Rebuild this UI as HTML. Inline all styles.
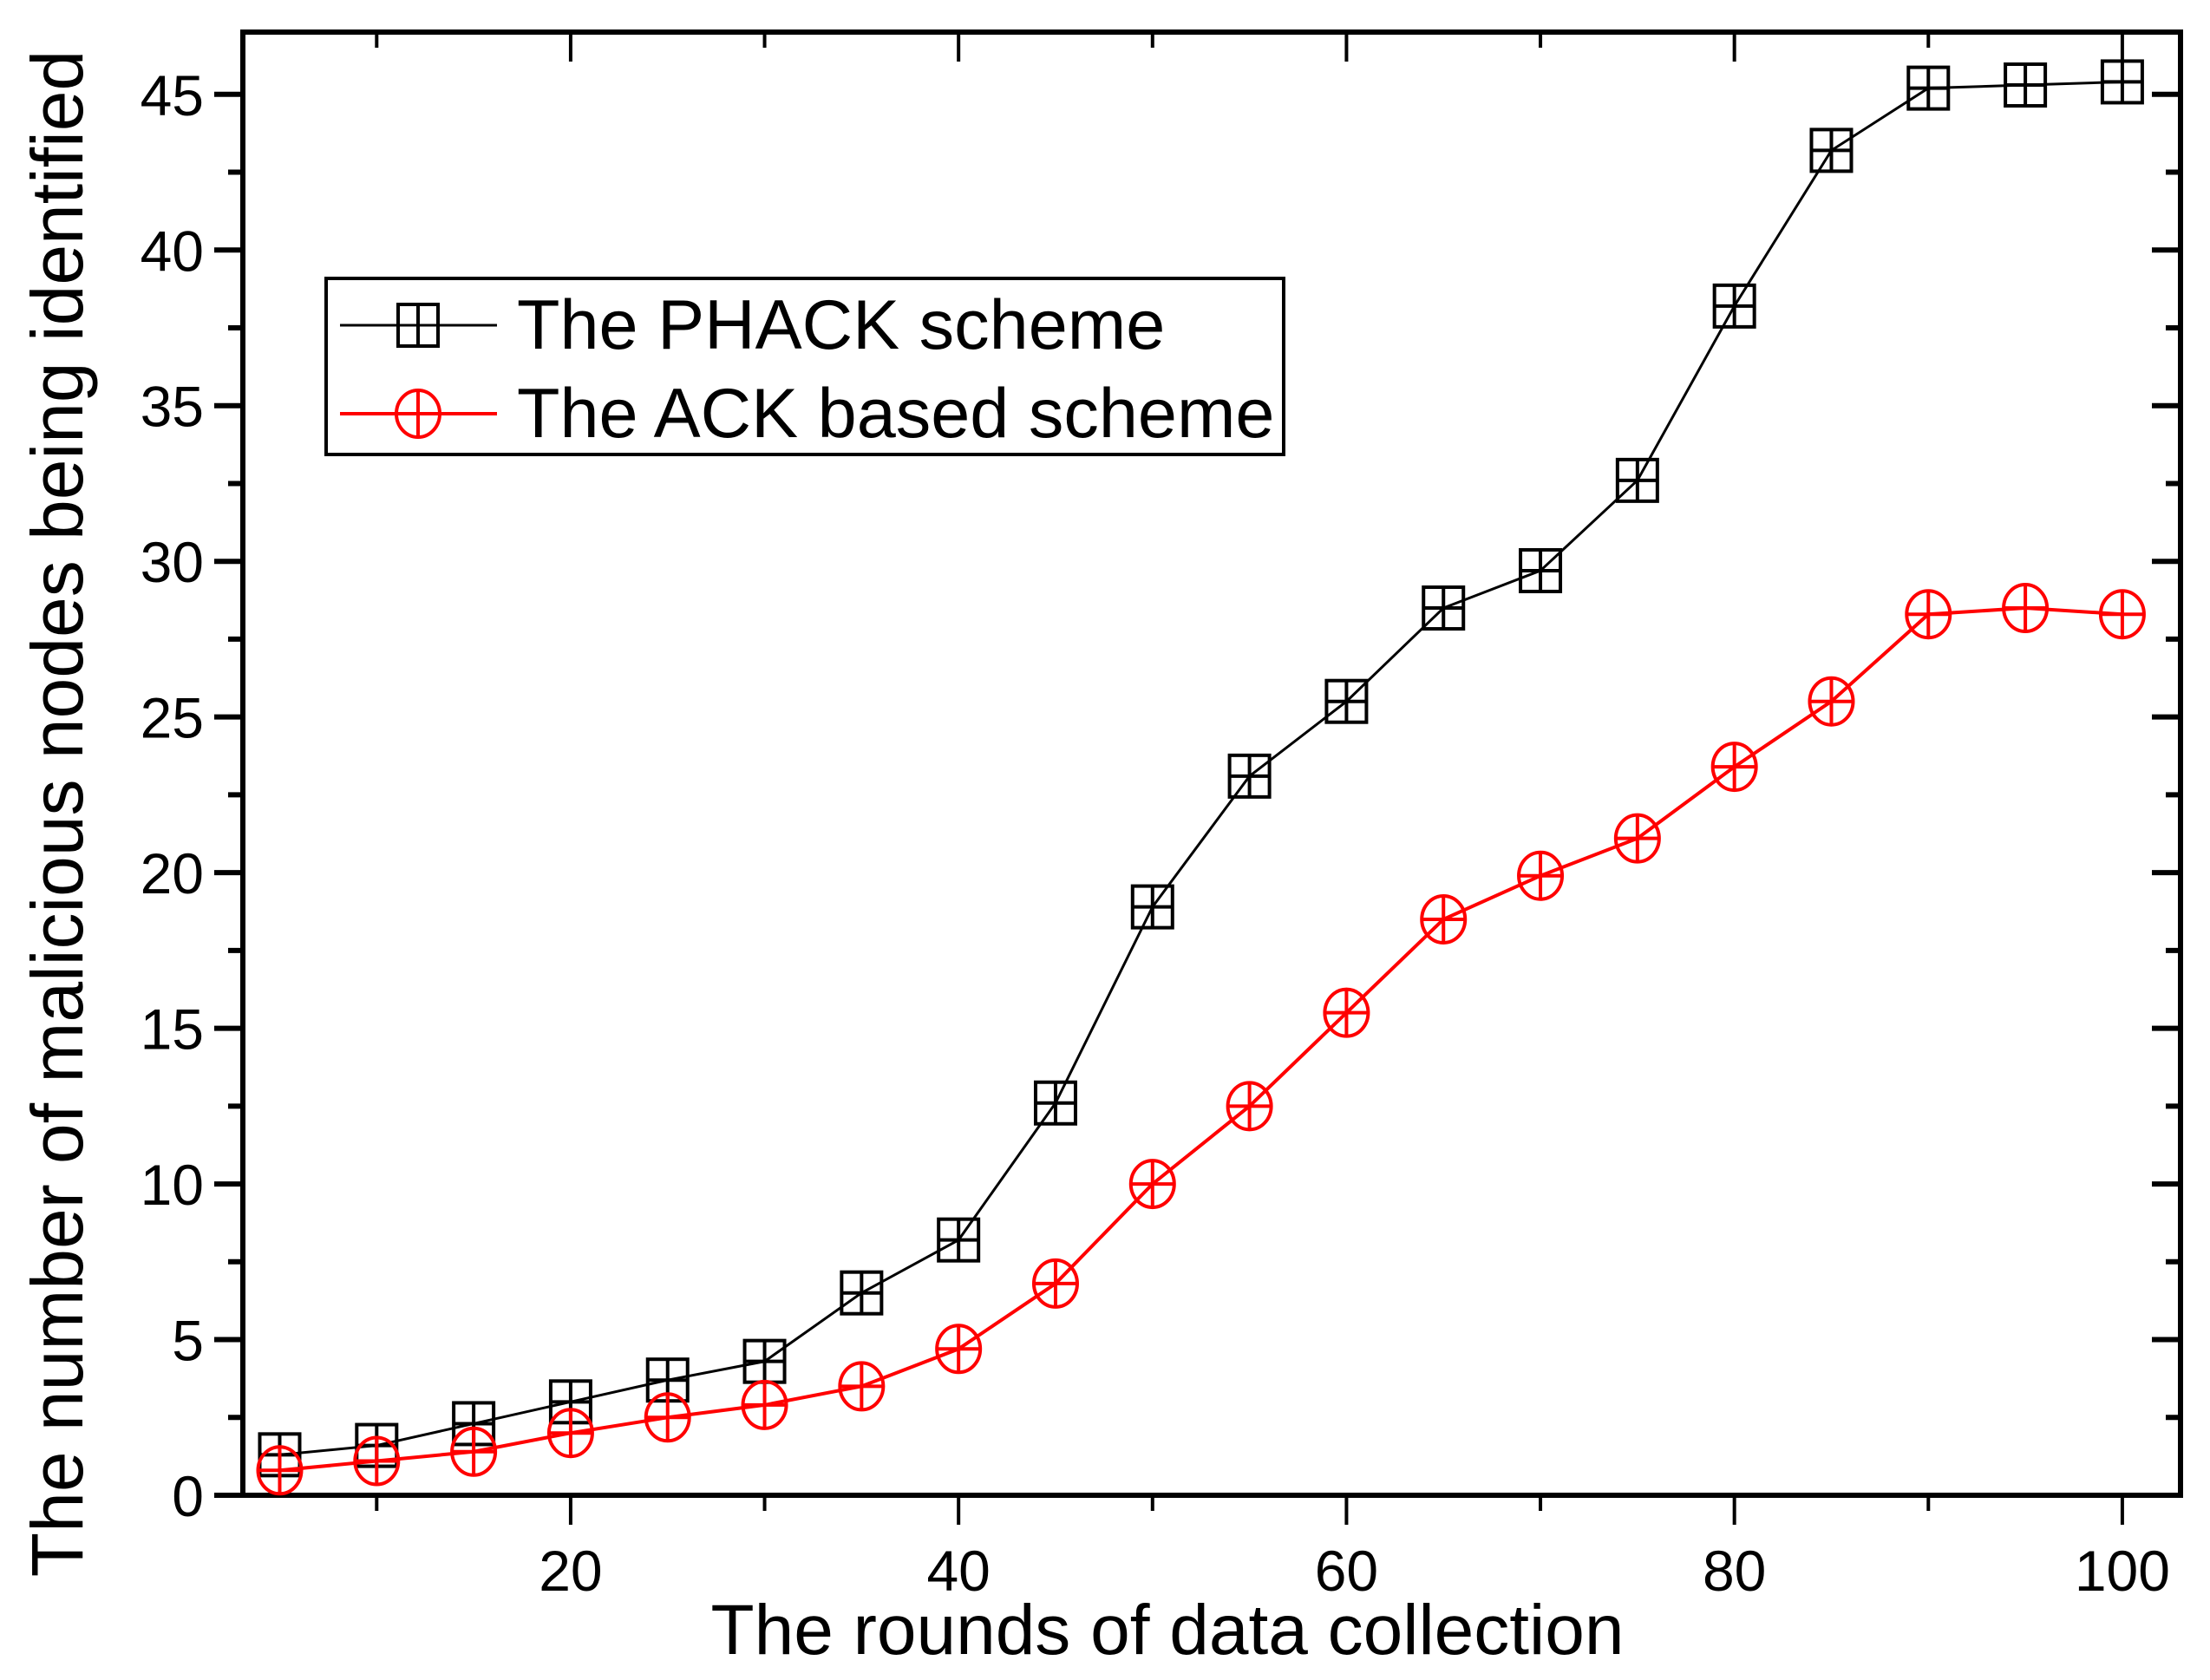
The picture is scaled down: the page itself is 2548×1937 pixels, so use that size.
<!DOCTYPE html>
<html><head><meta charset="utf-8"><style>
html,body{margin:0;padding:0;background:#fff;}
svg{display:block;font-family:"Liberation Sans",Arial,sans-serif;}
</style></head><body>
<svg id="chart" width="2548" height="1937" viewBox="0 0 2548 1937" xmlns="http://www.w3.org/2000/svg">
<rect width="2548" height="1937" fill="#fff"/>
<g id="axes"></g>
<g id="series"></g>
<text x="1346" y="1907" font-size="82" text-anchor="middle">The rounds of data collection</text>
<text transform="translate(95,938) rotate(-90)" font-size="84" text-anchor="middle">The number of malicious nodes being identified</text>
<g>
<rect x="376" y="321" width="1104" height="203" fill="#fff" stroke="#000" stroke-width="4"/>
<g>
<line x1="392" y1="375" x2="573" y2="375" stroke="#000" stroke-width="3"/>
<rect x="459" y="351" width="46" height="48" fill="none" stroke="#000" stroke-width="4"/>
<line x1="482" y1="351" x2="482" y2="399" stroke="#000" stroke-width="4"/>
<text x="596" y="402" font-size="81">The PHACK scheme</text>
</g>
<g>
<line x1="392" y1="477" x2="573" y2="477" stroke="#f00" stroke-width="4"/>
<ellipse cx="482" cy="477" rx="25" ry="27" fill="none" stroke="#f00" stroke-width="4"/>
<line x1="482" y1="450" x2="482" y2="504" stroke="#f00" stroke-width="4"/>
<text x="596" y="504" font-size="81">The ACK based scheme</text>
</g>
</g>
</svg>
<script>
const rounds = [5,10,15,20,25,30,35,40,45,50,55,60,65,70,75,80,85,90,95,100];
const phackValues = [1.3,1.6,2.3,3.0,3.7,4.3,6.5,8.2,12.6,18.9,23.1,25.5,28.5,29.7,32.6,38.2,43.2,45.2,45.3,45.4];
const ackValues = [0.8,1.1,1.4,2.0,2.5,2.9,3.5,4.7,6.8,10.0,12.5,15.5,18.5,19.9,21.1,23.4,25.5,28.3,28.5,28.3];
const xTickLabels = [20,40,60,80,100];
const yTickLabels = [0,5,10,15,20,25,30,35,40,45];

const NS = "http://www.w3.org/2000/svg";
const L = 280, R = 2514, T = 37, B = 1724;
const xMin = 3.1, xMax = 103, yMin = 0, yMax = 47.0;
const xs = v => L + (v - xMin) / (xMax - xMin) * (R - L);
const ys = v => B - (v - yMin) / (yMax - yMin) * (B - T);
function el(tag, attrs, parent){const e=document.createElementNS(NS,tag);for(const k in attrs)e.setAttribute(k,attrs[k]);parent.appendChild(e);return e;}
const axes = document.getElementById('axes');
const series = document.getElementById('series');

const frame = el('rect',{x:L,y:T,width:R-L,height:B-T,fill:'none',stroke:'#000','stroke-width':6},axes);



for(let v=10; v<=100; v+=10){
  const major = v % 20 === 0;
  const len = major ? 34 : 18;
  const x = xs(v);
  const tb = el('line',{x1:x,y1:B,x2:x,y2:B+len,stroke:'#000','stroke-width':4},axes);
  
  
  const tt = el('line',{x1:x,y1:T,x2:x,y2:T+len,stroke:'#000','stroke-width':4},axes);
  
  
}
xTickLabels.forEach(v=>{
  const t = el('text',{x:xs(v),y:B+110,'font-size':66,'text-anchor':'middle'},axes);
  t.textContent = v;
  
  
});
for(let v=0; v<=46; v+=2.5){
  const major = v % 5 === 0;
  const len = major ? 33 : 17;
  const y = ys(v);
  const tl = el('line',{x1:L-len,y1:y,x2:L,y2:y,stroke:'#000','stroke-width':6},axes);
  
  
  const tr = el('line',{x1:R,y1:y,x2:R-len,y2:y,stroke:'#000','stroke-width':6},axes);
  
  
}
yTickLabels.forEach(v=>{
  const t = el('text',{x:L-45,y:ys(v)+24,'font-size':66,'text-anchor':'end'},axes);
  t.textContent = v;
  
  
});

const p1 = el('polyline',{points:rounds.map((r,i)=>xs(r)+','+ys(phackValues[i])).join(' '),fill:'none',stroke:'#000','stroke-width':3},series);


rounds.forEach((r,i)=>{
  const x=xs(r), y=ys(phackValues[i]);
  const g = el('g',{},series);
  
  
  el('rect',{x:x-23,y:y-24,width:46,height:48,fill:'none',stroke:'#000','stroke-width':4},g);
  el('line',{x1:x,y1:y-24,x2:x,y2:y+24,stroke:'#000','stroke-width':4},g);
  el('line',{x1:x-23,y1:y,x2:x+23,y2:y,stroke:'#000','stroke-width':4},g);
});
const p2 = el('polyline',{points:rounds.map((r,i)=>xs(r)+','+ys(ackValues[i])).join(' '),fill:'none',stroke:'#f00','stroke-width':4},series);


rounds.forEach((r,i)=>{
  const x=xs(r), y=ys(ackValues[i]);
  const g = el('g',{},series);
  
  
  el('ellipse',{cx:x,cy:y,rx:25,ry:27,fill:'none',stroke:'#f00','stroke-width':4},g);
  el('line',{x1:x,y1:y-27,x2:x,y2:y+27,stroke:'#f00','stroke-width':4},g);
  el('line',{x1:x-25,y1:y,x2:x+25,y2:y,stroke:'#f00','stroke-width':4},g);
});
</script>
</body></html>
